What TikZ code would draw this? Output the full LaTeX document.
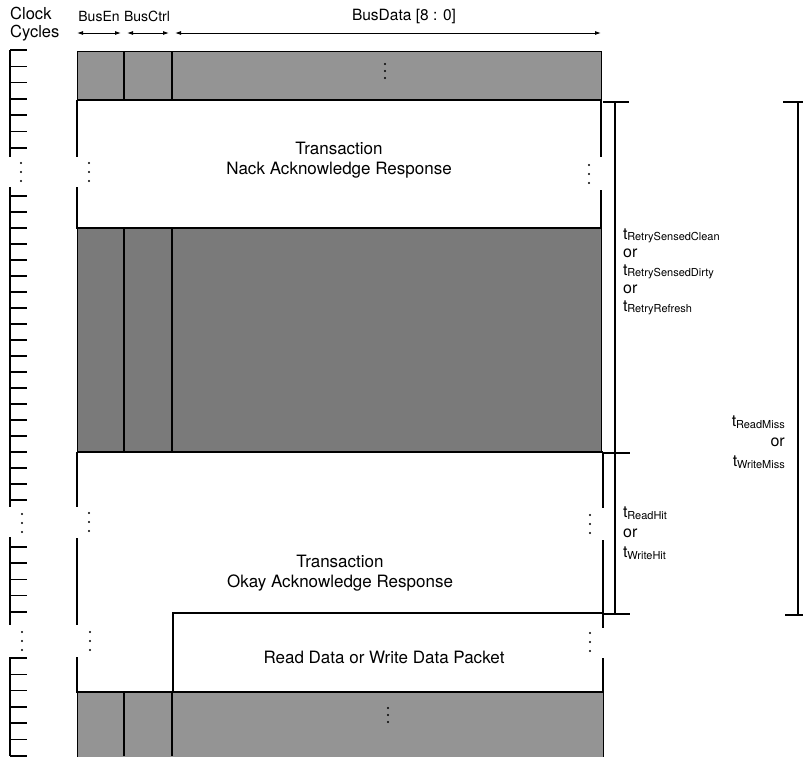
\documentclass[tikz,border=0pt]{standalone}
\usepackage{fontspec}
\setmainfont{TeX Gyre Heros}
\usetikzlibrary{arrows.meta}
\tikzset{
  band/.style={fill=black!42, draw=black, line width=0.8pt},
  frame/.style={line width=2.6pt},
  spine/.style={line width=2.4pt},
  tick/.style={line width=1.5pt},
  dim/.style={line width=1.1pt},
  lbl/.style={font=\fontsize{17}{20}\selectfont, inner sep=0pt},
  hdr/.style={font=\fontsize{15.5}{18}\selectfont, inner sep=0pt},
  span/.style={line width=0.9pt, {Latex[length=6pt,width=4pt]}-{Latex[length=6pt,width=4pt]}},
}
% t with a small index
\newcommand{\tlab}[1]{t\kern-0.3pt\raisebox{-1.5pt}{\fontsize{11}{12}\selectfont #1}}
% three dots in a column
\newcommand{\dotcol}[3]{\foreach \d in {0,1,2} \fill (#1,{#2+#3*\d}) circle (1.2pt);}

\begin{document}
\begin{tikzpicture}[x=1pt, y=-1pt]
  \useasboundingbox (0,0) rectangle (803,756);

  % headings
  \node[hdr, font=\fontsize{16.5}{18}\selectfont, align=left, anchor=west] (clk) at (10,24) {Clock\\Cycles};
  \node[hdr, font=\fontsize{14}{16}\selectfont] (en) at (99,16) {BusEn};
  \node[hdr, font=\fontsize{14}{16}\selectfont] (ctrl) at (147,16) {BusCtrl};
  \node[hdr] (data) at (404,16) {BusData [8 : 0]};
  \coordinate (a0) at (77,33);  \coordinate (a1) at (121,33);
  \coordinate (a2) at (127,33); \coordinate (a3) at (169,33);
  \coordinate (a4) at (175,33); \coordinate (a5) at (601,33);
  \draw[span] (a0) -- (a1);
  \draw[span] (a2) -- (a3);
  \draw[span] (a4) -- (a5);

  % clock cycles
  \foreach \a/\b in {50/157, 187/507, 537/625, 657/756}
    \draw[spine] (10,\a) -- (10,\b);
  \foreach \i in {0,...,6} \draw[tick] (10,{50+16.3*\i}) -- ++(17,0);
  \foreach \i in {0,...,19} \draw[tick] (10,{196+16*\i}) -- ++(17,0);
  \foreach \i in {0,...,4} \draw[tick] (10,{547+16.2*\i}) -- ++(17,0);
  \foreach \i in {0,...,6} \draw[tick] (10,{658+16.3*\i}) -- ++(17,0);
  \dotcol{21}{163}{9}
  \dotcol{22}{514}{9}
  \dotcol{22}{632}{9}

  % gray bands
  \draw[band] (77,51) rectangle (601,100);
  \draw[band, fill=black!52] (77,228) rectangle (601,452);
  \draw[band] (77,692) rectangle (603,760);
  \foreach \x in {124,172} {
    \draw[line width=1.2pt] (\x,51) -- (\x,100);
    \draw[line width=1.2pt] (\x,228) -- (\x,452);
    \draw[line width=1.2pt] (\x,692) -- (\x,756);
  }
  \dotcol{385}{64}{7}
  \dotcol{388}{708}{7}

  % nack response
  \draw[frame] (77,100) -- (601,100);
  \draw[frame] (77,100) -- (77,157);
  \draw[frame] (77,187) -- (77,228) -- (601,228) -- (601,190);
  \draw[frame] (601,100) -- (601,157);
  \dotcol{89}{163}{9}
  \dotcol{589}{165}{9}
  \node[lbl, align=center] (nack) at (339,160) {Transaction\\Nack Acknowledge Response};

  % okay response
  \draw[frame] (77,452) -- (603,452);
  \draw[frame] (77,452) -- (77,507);
  \draw[frame] (77,538) -- (77,625);
  \draw[frame] (77,657) -- (77,692) -- (603,692) -- (603,658);
  \draw[frame] (603,452) -- (603,508);
  \draw[frame] (603,540) -- (603,628);
  \dotcol{89}{513}{9}
  \dotcol{90}{632}{9}
  \dotcol{590}{515}{9}
  \dotcol{590}{633}{9}
  \node[lbl, align=center] (okay) at (340,573) {Transaction\\Okay Acknowledge Response};

  % data packet
  \draw[line width=1.2pt] (173,692) -- (173,613) -- (603,613);
  \node[lbl] (pkt) at (384,657) {Read Data or Write Data Packet};

  % timing
  \coordinate (r1t) at (615,102);
  \coordinate (r1m) at (615,453);
  \coordinate (r1b) at (615,614);
  \draw[dim] (r1t) -- (r1b);
  \draw[dim] (603,102) -- (629,102);
  \draw[dim] (603,453) -- (630,453);
  \draw[dim] (603,614) -- (630,614);
  \coordinate (r2t) at (798,102);
  \coordinate (r2b) at (798,615);
  \draw[dim] (r2t) -- (r2b);
  \draw[dim] (783,102) -- (803,102);
  \draw[dim] (785,615) -- (803,615);

  \node[lbl, font=\fontsize{16}{18}\selectfont, align=left, anchor=west] (retry) at (623,272)
    {\tlab{RetrySensedClean}\\or\\\tlab{RetrySensedDirty}\\or\\\tlab{RetryRefresh}};
  \node[lbl, font=\fontsize{16}{20}\selectfont, align=left, anchor=west] (hit) at (623,533)
    {\tlab{ReadHit}\\or\\\tlab{WriteHit}};
  \node[lbl, font=\fontsize{16}{20}\selectfont, align=right, anchor=east] (miss) at (785,442)
    {\tlab{ReadMiss}\\or\\\tlab{WriteMiss}};
\end{tikzpicture}
\end{document}
